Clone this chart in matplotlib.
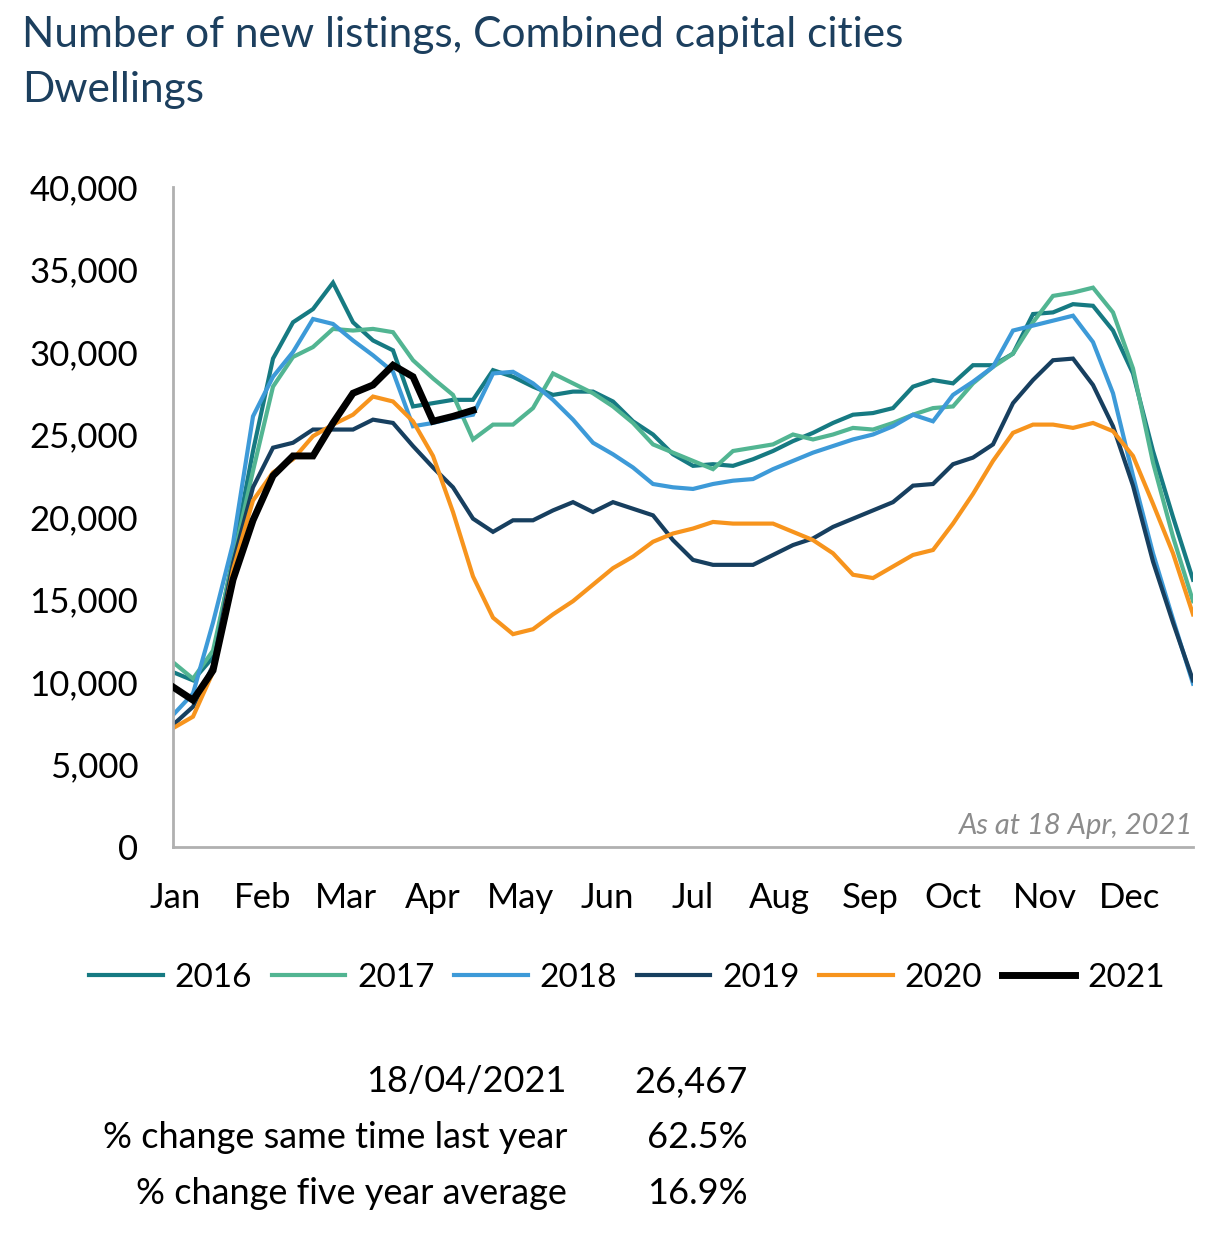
import matplotlib.pyplot as plt

# Weekly new listings, combined capital cities (week 1..52)
weeks = list(range(52))

y2016 = [10600, 10100, 11500, 17600, 24000, 29600, 31800, 32600, 34200, 31800,
         30700, 30100, 26700, 26900, 27100, 27100, 28900, 28500, 27900, 27400,
         27600, 27600, 27000, 25800, 25000, 23800, 23100, 23200, 23100, 23500,
         24000, 24600, 25100, 25700, 26200, 26300, 26600, 27900, 28300, 28100,
         29200, 29200, 29900, 32300, 32400, 32900, 32800, 31300, 28700, 24000,
         20000, 16200]
y2017 = [11200, 10200, 11900, 17400, 22800, 27900, 29700, 30300, 31400, 31300,
         31400, 31200, 29500, 28400, 27400, 24700, 25600, 25600, 26600, 28700,
         28100, 27500, 26700, 25700, 24400, 23900, 23400, 22900, 24000, 24200,
         24400, 25000, 24700, 25000, 25400, 25300, 25700, 26200, 26600, 26700,
         28100, 29100, 29900, 31800, 33400, 33600, 33900, 32400, 29000, 23300,
         18800, 14900]
y2018 = [8000, 9300, 13600, 18400, 26100, 28500, 30000, 32000, 31700, 30700,
         29800, 28800, 25500, 25700, 26000, 26200, 28700, 28800, 28100, 27100,
         25900, 24500, 23800, 23000, 22000, 21800, 21700, 22000, 22200, 22300,
         22900, 23400, 23900, 24300, 24700, 25000, 25500, 26200, 25800, 27400,
         28200, 29100, 31300, 31600, 31900, 32200, 30600, 27500, 22500, 17800,
         13800, 9900]
y2019 = [7400, 8500, 11000, 17200, 21800, 24200, 24500, 25300, 25300, 25300,
         25900, 25700, 24300, 23000, 21800, 19900, 19100, 19800, 19800, 20400,
         20900, 20300, 20900, 20500, 20100, 18600, 17400, 17100, 17100, 17100,
         17700, 18300, 18700, 19400, 19900, 20400, 20900, 21900, 22000, 23200,
         23600, 24400, 26900, 28300, 29500, 29600, 28000, 25500, 21900, 17300,
         13600, 10100]
y2020 = [7200, 7900, 10600, 16800, 21000, 22700, 23500, 24900, 25600, 26200,
         27300, 27000, 25800, 23700, 20300, 16400, 13900, 12900, 13200, 14100,
         14900, 15900, 16900, 17600, 18500, 19000, 19300, 19700, 19600, 19600,
         19600, 19100, 18600, 17800, 16500, 16300, 17000, 17700, 18000, 19600,
         21400, 23400, 25100, 25600, 25600, 25400, 25700, 25200, 23700, 20800,
         17800, 14100]
y2021 = [9700, 8900, 10700, 16200, 19800, 22500, 23700, 23700, 25700, 27500,
         28000, 29200, 28500, 25800, 26100, 26467]

years = ['2016', '2017', '2018', '2019', '2020', '2021']
colors = ['#167a82', '#52b592', '#3d9ad8', '#173f5f', '#f7941d', '#000000']

month_labels = ['Jan', 'Feb', 'Mar', 'Apr', 'May', 'Jun',
                'Jul', 'Aug', 'Sep', 'Oct', 'Nov', 'Dec']
month_pos = [0.1, 4.5, 8.65, 13, 17.35, 21.7, 26, 30.3, 34.85, 39, 43.6, 47.85]

table_labels = ['18/04/2021', '% change same time last year', '% change five year average']
table_values = ['26,467', '62.5%', '16.9%']

plt.rcParams['font.family'] = ['Lato', 'DejaVu Sans']

fig = plt.figure(figsize=(12.27, 12.34), dpi=100)
ax = fig.add_axes([173 / 1227, 1 - 847 / 1234, 1020 / 1227, 660 / 1234])

series = [y2016, y2017, y2018, y2019, y2020, y2021]
for yr, vals, c in zip(years, series, colors):
    lw = 5 if yr == '2021' else 3
    ax.plot(weeks[:len(vals)], vals, color=c, lw=lw, label=yr,
            solid_joinstyle='miter', zorder=3 if yr == '2021' else 2)

ax.set_xlim(0, 51)
ax.set_ylim(0, 40000)
ax.set_yticks(range(0, 40001, 5000))
ax.set_yticklabels([f'{v:,}' for v in range(0, 40001, 5000)])
ax.set_xticks(month_pos)
ax.set_xticklabels(month_labels)
ax.tick_params(axis='both', length=0, labelsize=25, colors='black')
ax.tick_params(axis='y', pad=25)
ax.tick_params(axis='x', pad=25)
for s in ['top', 'right']:
    ax.spines[s].set_visible(False)
for s in ['left', 'bottom']:
    ax.spines[s].set_color('#b0b0b0')
    ax.spines[s].set_linewidth(2)

ax.text(1.0, 0.012, 'As at 18 Apr, 2021', transform=ax.transAxes, ha='right',
        va='bottom', fontsize=21, style='italic', color='#8c8c8c')

fig.text(22 / 1227, 1 - 35 / 1234, 'Number of new listings, Combined capital cities',
         fontsize=30.5, color='#1c3f5e', va='center', ha='left')
fig.text(22 / 1227, 1 - 90 / 1234, 'Dwellings',
         fontsize=30.5, color='#1c3f5e', va='center', ha='left')

fig.legend(loc='center', bbox_to_anchor=(627 / 1227, 1 - 978 / 1234), ncol=6,
           frameon=False, fontsize=24, handlelength=2.2, handletextpad=0.35,
           columnspacing=0.6)

for k, (lab, val) in enumerate(zip(table_labels, table_values)):
    yy = 1 - (1082 + 56 * k) / 1234
    fig.text(567 / 1227, yy, lab, ha='right', va='center', fontsize=26)
    fig.text(748 / 1227, yy, val, ha='right', va='center', fontsize=26)

fig.savefig('out.png', dpi=100)
